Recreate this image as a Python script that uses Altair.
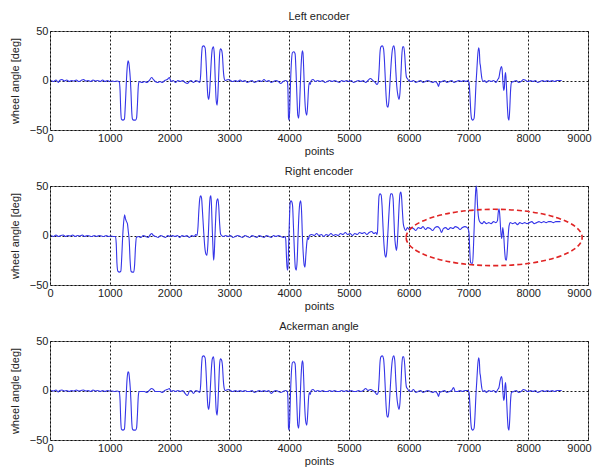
import altair as alt
import pandas as pd

X_TICKS = [0, 1000, 2000, 3000, 4000, 5000, 6000, 7000, 8000, 9000]
Y_TICKS = [-50, 0, 50]
TITLES = ["Left encoder", "Right encoder", "Ackerman angle"]
X_TITLE = "points"
Y_TITLE = "wheel angle [deg]"

LEFT = [
    (20, 0), (60, -1), (100, 0.5), (140, -2), (160, 0), (200, 1), (240, -0.5), (280, 0.5), (320, -1),
    (360, 0), (400, -0.5), (440, 0.5), (480, -1), (520, 0), (560, 1), (600, -0.5), (640, 0), (680, -1),
    (720, 0.5), (760, -0.5), (800, 0), (840, -1), (880, 0.5), (920, -1), (960, 0), (1000, -1),
    (1040, -0.5), (1080, -1), (1120, -0.5), (1160, -1.5),
    (1172, -10), (1185, -32), (1195, -39), (1220, -40), (1245, -39), (1260, -25), (1275, -5), (1290, 12),
    (1305, 20), (1318, 18), (1330, 12), (1342, 3), (1355, -12), (1368, -32), (1380, -39), (1400, -40),
    (1430, -40), (1448, -38), (1462, -25), (1478, -5), (1492, -1),
    (1540, -2), (1580, -1), (1620, -2), (1660, 0), (1700, 3), (1730, 1), (1760, -1), (1800, -2),
    (1840, -1), (1880, -2), (1920, 0), (1960, 1), (2000, 3), (2020, -1), (2060, 0), (2100, -2),
    (2140, 0), (2180, -1), (2220, 0), (2260, -2), (2300, -3), (2330, -1), (2360, 0), (2400, -2),
    (2440, 0), (2480, -1), (2505, -2),
    (2520, 5), (2535, 25), (2548, 34), (2570, 35), (2595, 33), (2610, 20), (2625, 0), (2640, -15),
    (2655, -19), (2670, -12), (2685, 5), (2700, 22), (2715, 32), (2735, 34), (2750, 25), (2765, 0),
    (2780, -20), (2795, -25), (2808, -15), (2822, 5), (2836, 25), (2850, 32), (2868, 31), (2885, 25),
    (2900, 10), (2915, 2), (2930, 0),
    (2980, 1), (3020, 0), (3060, -1), (3100, 0), (3140, -1), (3180, 0.5), (3220, -1), (3260, 0),
    (3300, -2), (3340, -1), (3380, 0), (3420, -2), (3460, -1), (3500, 0), (3540, -1), (3580, 1),
    (3620, -1), (3660, 0), (3700, -2), (3740, -1), (3780, 0), (3820, -1), (3860, -3), (3900, -1),
    (3940, 0), (3970, -1),
    (3980, -8), (3990, -38), (4000, -40), (4010, -30), (4025, 0), (4040, 20), (4055, 28), (4080, 29),
    (4100, 27), (4115, 10), (4130, -15), (4145, -35), (4160, -38), (4175, -25), (4190, 0), (4205, 20),
    (4220, 30), (4232, 28), (4245, 10), (4260, -15), (4275, -30), (4295, -35), (4310, -25), (4325, -8),
    (4340, -2), (4355, -4), (4370, 0),
    (4400, 1), (4440, -1), (4480, 0), (4520, -1), (4560, 0), (4600, -2), (4640, -1), (4680, 0),
    (4720, -1), (4760, 0), (4800, -1), (4840, -2), (4880, 0), (4920, -1), (4960, 0), (5000, -1),
    (5040, 0), (5080, -2), (5120, -1), (5160, 0), (5200, -1), (5240, 0), (5280, -2), (5320, 0),
    (5360, 2), (5400, 0), (5440, -2), (5470, -4), (5490, -2),
    (5505, 10), (5520, 28), (5535, 34), (5560, 35), (5580, 32), (5595, 20), (5610, 0), (5625, -18),
    (5640, -26), (5655, -27), (5670, -20), (5690, 0), (5710, 20), (5730, 32), (5750, 35), (5768, 30),
    (5785, 10), (5800, -5), (5820, -15), (5840, -19), (5855, -12), (5870, 5), (5885, 25), (5900, 34),
    (5918, 34), (5935, 25), (5950, 10), (5965, 3), (5980, 2), (6000, 0),
    (6040, -1), (6080, 0), (6120, -2), (6160, -1), (6200, 0), (6240, -2), (6280, -1), (6320, 0),
    (6360, -1), (6400, -2), (6440, -1), (6480, -3), (6500, -6), (6520, -2), (6560, -1), (6600, 0),
    (6640, -2), (6680, -1), (6720, 0), (6760, -2), (6800, -1), (6840, 0), (6880, -1), (6920, 0),
    (6960, -1), (6990, 0),
    (7010, -2), (7025, -15), (7040, -32), (7055, -39), (7075, -40), (7095, -38), (7110, -25),
    (7125, -5), (7140, 10), (7155, 25), (7170, 33), (7182, 30), (7192, 18), (7200, 15), (7212, 8),
    (7225, 2), (7244, -1), (7270, 0), (7300, -2), (7340, 0), (7380, -1), (7420, 0), (7460, -2),
    (7490, 1), (7510, 3), (7530, 10), (7550, 14), (7562, 12), (7575, 0), (7590, -10), (7600, -8),
    (7612, 5), (7622, 8), (7635, -5), (7650, -25), (7665, -38), (7678, -40), (7690, -30), (7705, -10),
    (7720, -2),
    (7760, -1), (7800, 0), (7840, -2), (7880, -1), (7920, 1), (7960, 0), (8000, -1), (8040, 0),
    (8080, -1), (8120, 0), (8160, -2), (8200, -1), (8240, 0), (8280, -1), (8320, 0), (8360, -1),
    (8400, 0), (8440, -1), (8480, 0), (8520, 0), (8560, 0),
]

RIGHT = [
    (20, 0), (60, -1), (100, 0.5), (140, -1), (180, 0), (220, 0.5), (260, -1), (300, 0), (340, -0.5),
    (380, 0.5), (420, -1), (460, 0), (500, -0.5), (540, 0.5), (580, -1), (620, 0), (660, -0.5),
    (700, -1), (740, 0), (780, -1), (820, 0), (860, -0.5), (900, -1), (940, 0), (980, -1),
    (1020, -0.5), (1060, -1), (1095, -1),
    (1108, -8), (1120, -28), (1135, -36), (1160, -37), (1185, -36), (1200, -22), (1215, -2), (1230, 12),
    (1248, 21), (1262, 17), (1280, 14), (1295, 12), (1310, 4), (1325, -5), (1340, -25), (1355, -36),
    (1375, -37), (1400, -37), (1415, -30), (1430, -12), (1445, -2),
    (1480, -1), (1520, -2), (1560, 0), (1600, -1), (1640, -2), (1680, 1), (1700, 2), (1730, 0),
    (1770, -1), (1810, -2), (1850, 0), (1890, -1), (1930, -2), (1970, 0), (2010, -1), (2050, 0),
    (2090, -1), (2130, 0), (2170, -2), (2210, 0), (2250, -1), (2290, 0), (2330, -2), (2370, 0),
    (2410, -1), (2440, 1), (2460, 0),
    (2475, 8), (2490, 25), (2505, 37), (2520, 40), (2535, 38), (2550, 25), (2570, 5), (2590, -12),
    (2610, -19), (2625, -20), (2640, -10), (2655, 10), (2668, 30), (2680, 39), (2692, 40), (2702, 30),
    (2715, 5), (2728, -15), (2738, -25), (2748, -18), (2760, 0), (2775, 22), (2790, 35), (2808, 37),
    (2822, 30), (2838, 12), (2852, 2), (2870, 0),
    (2900, -1), (2940, 0), (2980, -1), (3020, 0), (3060, -2), (3100, -1), (3140, 0), (3180, -1),
    (3220, -2), (3260, 0), (3300, -1), (3340, -2), (3380, 0), (3420, -1), (3460, -2), (3500, 0),
    (3540, -1), (3580, -2), (3620, 0), (3660, -1), (3700, -2), (3740, 0), (3780, -1), (3820, 0),
    (3860, -1), (3900, -2), (3935, -1),
    (3945, -5), (3958, -25), (3970, -35), (3980, -33), (3992, -10), (4005, 15), (4018, 33), (4030, 35),
    (4045, 34), (4058, 30), (4072, 10), (4088, -15), (4105, -33), (4120, -35), (4135, -25), (4150, 0),
    (4165, 22), (4180, 33), (4195, 35), (4208, 25), (4222, 0), (4238, -20), (4252, -30), (4265, -32),
    (4280, -20), (4295, -8), (4310, -2), (4325, -4), (4340, 0),
    (4380, 1), (4420, 0), (4460, 2), (4500, 0), (4540, 1), (4580, -1), (4620, 1), (4660, 0),
    (4700, 2), (4740, 0), (4780, 1), (4820, 0), (4860, 2), (4900, 1), (4940, 3), (4980, 1),
    (5020, 2), (5060, 0), (5100, 2), (5140, 1), (5180, 3), (5220, 2), (5260, 3), (5300, 1),
    (5340, 3), (5380, 4), (5420, 2), (5450, 3), (5470, 1),
    (5480, 5), (5492, 25), (5505, 40), (5520, 42), (5540, 41), (5555, 30), (5570, 10), (5588, -10),
    (5605, -20), (5620, -22), (5635, -15), (5650, 0), (5668, 20), (5685, 36), (5700, 42), (5720, 42),
    (5738, 38), (5752, 20), (5765, 0), (5780, -10), (5795, -15), (5810, -8), (5825, 10), (5840, 30),
    (5855, 42), (5868, 44), (5880, 40), (5895, 25), (5910, 12), (5930, 7), (5950, 5),
    (5980, 8), (6010, 6), (6040, 8), (6080, 7), (6120, 5), (6160, 8), (6200, 7), (6240, 9),
    (6280, 6), (6320, 8), (6360, 7), (6400, 5), (6440, 8), (6480, 9), (6520, 7), (6550, 3),
    (6580, 7), (6620, 8), (6660, 6), (6700, 8), (6740, 7), (6780, 9), (6820, 8), (6860, 6),
    (6900, 8), (6940, 9), (6980, 8), (7000, 6),
    (7010, 2), (7022, -15), (7035, -27), (7050, -28), (7070, -28), (7085, -10), (7100, 15), (7115, 38),
    (7128, 50), (7140, 45), (7152, 30), (7165, 20), (7180, 15), (7200, 13), (7230, 12), (7260, 14),
    (7300, 12), (7340, 13), (7380, 12), (7420, 14), (7460, 13), (7485, 15), (7500, 24), (7512, 27),
    (7525, 20), (7540, 5), (7555, -3), (7565, 2), (7575, 8), (7590, 0), (7605, -15), (7620, -24),
    (7635, -25), (7650, -15), (7665, 0), (7680, 10), (7700, 13),
    (7740, 12), (7780, 13), (7820, 11), (7860, 13), (7900, 12), (7940, 13), (7980, 12), (8020, 13),
    (8060, 14), (8100, 12), (8140, 13), (8180, 14), (8220, 13), (8260, 14), (8300, 13), (8340, 14),
    (8380, 14), (8420, 13), (8460, 14), (8500, 14), (8540, 14),
]

ACKERMAN = [
    (20, 0), (60, -0.5), (100, 0.5), (140, -1.5), (160, 0), (200, 0.5), (240, -0.5), (280, 0), (320, -1),
    (360, 0), (400, -0.5), (440, 0.5), (480, -0.5), (520, 0), (560, 0.5), (600, -0.5), (640, 0),
    (680, -1), (720, 0.5), (760, -0.5), (800, 0), (840, -1), (880, 0), (920, -1), (960, 0),
    (1000, -0.5), (1040, -0.5), (1080, -1), (1120, -0.5), (1160, -1.5),
    (1172, -10), (1185, -32), (1195, -39), (1220, -40), (1245, -39), (1260, -25), (1275, -5), (1290, 12),
    (1305, 19), (1318, 18), (1330, 12), (1342, 3), (1355, -12), (1368, -32), (1380, -39), (1400, -40),
    (1430, -40), (1448, -38), (1462, -25), (1478, -5), (1492, -1),
    (1540, -1), (1580, -1), (1620, -2), (1660, 0), (1700, 2), (1730, 1), (1760, -1), (1800, -1),
    (1840, -1), (1880, -2), (1920, 0), (1960, 1), (2000, 2), (2020, -1), (2060, 0), (2100, -1),
    (2140, 0), (2180, -1), (2220, 0), (2260, -3), (2300, -5), (2330, -1), (2360, 0), (2400, -3),
    (2440, 0), (2480, -1), (2505, -2),
    (2520, 5), (2535, 25), (2548, 34), (2570, 35), (2595, 33), (2610, 20), (2625, 0), (2640, -15),
    (2655, -19), (2670, -12), (2685, 5), (2700, 22), (2715, 32), (2735, 34), (2750, 25), (2765, 0),
    (2780, -20), (2795, -25), (2808, -15), (2822, 5), (2836, 25), (2850, 32), (2868, 31), (2885, 25),
    (2900, 10), (2915, 2), (2930, 0),
    (2980, 1), (3020, 0), (3060, -1), (3100, 0), (3140, -1), (3180, 0), (3220, -1), (3260, 0),
    (3300, -1), (3340, -1), (3380, 0), (3420, -2), (3460, -1), (3500, 0), (3540, -1), (3580, 0),
    (3620, -1), (3660, 0), (3700, -3), (3740, -1), (3780, 0), (3820, -1), (3860, -2), (3900, -1),
    (3940, 0), (3970, -1),
    (3980, -8), (3990, -38), (4000, -40), (4010, -30), (4025, 0), (4040, 20), (4055, 28), (4080, 29),
    (4100, 27), (4115, 10), (4130, -15), (4145, -35), (4160, -38), (4175, -25), (4190, 0), (4205, 20),
    (4220, 30), (4232, 28), (4245, 10), (4260, -15), (4275, -30), (4295, -35), (4310, -25), (4325, -8),
    (4340, -2), (4355, -4), (4370, 0),
    (4400, 1), (4440, -1), (4480, 0), (4520, -1), (4560, 0), (4600, -1), (4640, -1), (4680, 0),
    (4720, -1), (4760, 0), (4800, -1), (4840, -1), (4880, 0), (4920, -1), (4960, 0), (5000, -1),
    (5040, 0), (5080, -1), (5120, -1), (5160, 0), (5200, -1), (5240, 0), (5280, 2), (5320, 0),
    (5360, 1), (5400, 0), (5440, -2), (5470, -4), (5490, -2),
    (5505, 10), (5520, 28), (5535, 34), (5560, 35), (5580, 32), (5595, 20), (5610, 0), (5625, -18),
    (5640, -26), (5655, -27), (5670, -20), (5690, 0), (5710, 20), (5730, 32), (5750, 35), (5768, 30),
    (5785, 10), (5800, -5), (5820, -15), (5840, -19), (5855, -12), (5870, 5), (5885, 25), (5900, 34),
    (5918, 34), (5935, 25), (5950, 10), (5965, 3), (5980, 2), (6000, 0),
    (6040, -1), (6080, 1), (6120, -2), (6160, -1), (6200, 0), (6240, -2), (6280, -1), (6320, 0),
    (6360, -1), (6400, -2), (6440, -1), (6480, -3), (6500, -6), (6520, -2), (6560, -1), (6600, 0),
    (6640, -2), (6680, -1), (6720, 0), (6750, 3), (6780, -1), (6820, -1), (6860, 0), (6900, -1),
    (6940, 0), (6990, 0),
    (7010, -2), (7025, -15), (7040, -32), (7055, -39), (7075, -40), (7095, -38), (7110, -25),
    (7125, -5), (7140, 10), (7155, 25), (7170, 33), (7182, 30), (7192, 18), (7200, 15), (7212, 8),
    (7225, 2), (7244, -1), (7270, 0), (7300, -2), (7340, 0), (7380, -1), (7420, 0), (7460, -2),
    (7490, 1), (7510, 3), (7530, 10), (7550, 14), (7562, 12), (7575, 0), (7590, -10), (7600, -8),
    (7612, 5), (7622, 8), (7635, -5), (7650, -25), (7665, -38), (7678, -40), (7690, -30), (7705, -10),
    (7720, -2),
    (7760, -1), (7800, 0), (7840, -2), (7880, -1), (7920, 1), (7960, 0), (8000, -1), (8040, 0),
    (8080, -1), (8120, 0), (8160, -2), (8200, -1), (8240, 0), (8280, -1), (8320, 0), (8360, -1),
    (8400, 0), (8440, -1), (8480, 0), (8520, 0), (8560, 0),
]

# annotation ellipse on the right-encoder panel (centre in data units)
ELLIPSE_CENTER = [(7430, -2)]

FONT = "Liberation Sans"
LINE_COLOR = "#3535e8"
TEXT_COLOR = "#222222"

ELLIPSE_PATH = ("M -1 0 C -1 -0.177 -0.5523 -0.32 0 -0.32 C 0.5523 -0.32 1 -0.177 1 0 "
                "C 1 0.177 0.5523 0.32 0 0.32 C -0.5523 0.32 -1 0.177 -1 0 Z")

# keep the last x label inside the page
LAST_LABEL_OFFSET = {"condition": {"test": "datum.value >= 9000", "value": -9}, "value": 0}


def panel(points, title, ellipse=False):
    df = pd.DataFrame(points, columns=["x", "y"])
    x_enc = alt.X("x:Q", scale=alt.Scale(domain=[0, 9000], nice=False),
                  axis=alt.Axis(values=X_TICKS, title=X_TITLE, labelFlush=False, format="d",
                                labelPadding=2, titlePadding=2, titleFontWeight="normal",
                                labelOffset=LAST_LABEL_OFFSET))
    y_enc = alt.Y("y:Q", scale=alt.Scale(domain=[-50, 50], nice=False),
                  axis=alt.Axis(values=Y_TICKS, title=Y_TITLE, labelPadding=2, format="d",
                                titlePadding=9, labelFlush=False, titleFontWeight="normal"))
    line = alt.Chart(df).mark_line(color=LINE_COLOR, strokeWidth=1.1,
                                   interpolate="monotone").encode(x=x_enc, y=y_enc)
    layers = [line]
    if ellipse:
        edf = pd.DataFrame(ELLIPSE_CENTER, columns=["x", "y"])
        ell = alt.Chart(edf).mark_point(shape=ELLIPSE_PATH, size=176 * 176, filled=False,
                                        color="#e02424", strokeWidth=1.6,
                                        strokeDash=[5, 3], opacity=1).encode(
            x="x:Q", y="y:Q")
        layers.append(ell)
    return alt.layer(*layers).properties(
        width=538, height=99,
        title=alt.TitleParams(text=title, fontSize=11, fontWeight="normal", font=FONT,
                              color=TEXT_COLOR, offset=3, anchor="middle"))


chart = alt.vconcat(
    panel(LEFT, TITLES[0]),
    panel(RIGHT, TITLES[1], ellipse=True),
    panel(ACKERMAN, TITLES[2]),
    spacing=8,
).properties(
    padding={"top": 2, "left": 0, "right": 0, "bottom": 0},
    background="white",
).configure_view(
    stroke="#7a7a7a", strokeWidth=1
).configure_axis(
    labelFont=FONT, labelFontSize=11, labelColor=TEXT_COLOR,
    titleFont=FONT, titleFontSize=11, titleFontWeight="normal", titleColor=TEXT_COLOR,
    grid=True, gridColor="#000000", gridDash=[2, 2], gridOpacity=0.9, gridWidth=1,
    domain=False, ticks=False,
)

chart.save("out.html", embed_options={"renderer": "svg", "actions": False})
